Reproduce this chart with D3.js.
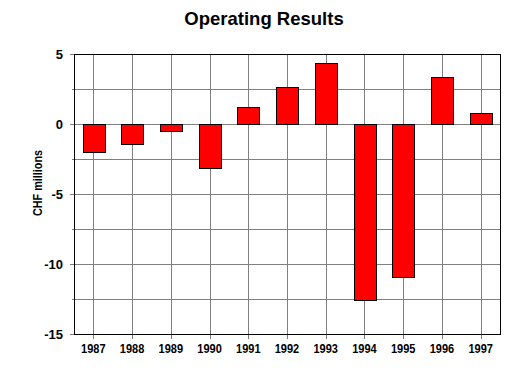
<!DOCTYPE html>
<html>
<head>
<meta charset="utf-8">
<script src="https://cdn.jsdelivr.net/npm/d3@7"></script>
<style>
  html, body { margin: 0; padding: 0; background: #fff; }
  svg { display: block; }
</style>
</head>
<body>
<svg id="chart" width="532" height="382"></svg>
<script>
const years = ["1987","1988","1989","1990","1991","1992","1993","1994","1995","1996","1997"];
const results = [-2.0, -1.43, -0.5, -3.14, 1.21, 2.62, 4.34, -12.57, -10.93, 3.34, 0.79];
const yLabelTicks = [5, 0, -5, -10, -15];
const yGridTicks = [5, 2.5, 0, -2.5, -5, -7.5, -10, -12.5, -15];
const title = "Operating Results";
const yTitle = "CHF millions";

const svg = d3.select("#chart");
const L = 74, R = 500, T = 54, B = 334;

const x = d3.scaleBand().domain(years).range([L, R]).paddingInner(0.44).paddingOuter(0.22);
const y = d3.scaleLinear().domain([-15, 5]).range([B, T]);

const font = "'Liberation Sans', Arial, sans-serif";

// horizontal gridlines + left ticks
svg.append("g").selectAll("line").data(yGridTicks).join("line")
  .attr("x1", d => (d % 5 === 0) ? L - 4 : L - 2).attr("x2", R)
  .attr("y1", d => Math.round(y(d)) + 0.5).attr("y2", d => Math.round(y(d)) + 0.5)
  .attr("stroke", "#808080").attr("stroke-width", 1);

// vertical gridlines
svg.append("g").selectAll("line").data(years).join("line")
  .attr("x1", d => Math.round(x(d) + x.bandwidth() / 2) + 0.5)
  .attr("x2", d => Math.round(x(d) + x.bandwidth() / 2) + 0.5)
  .attr("y1", T).attr("y2", B + 5)
  .attr("stroke", "#808080").attr("stroke-width", 1);

// bars
svg.append("g").selectAll("rect").data(years).join("rect")
  .attr("x", d => Math.round(x(d)) + 0.5)
  .attr("width", Math.round(x.bandwidth()))
  .attr("y", (d, i) => Math.round(y(Math.max(0, results[i]))) + 0.5)
  .attr("height", (d, i) => Math.round(Math.abs(y(results[i]) - y(0))))
  .attr("fill", "#ff0000").attr("stroke", "#000").attr("stroke-width", 1);

// frame
svg.append("rect").attr("x", L + 0.5).attr("y", T + 0.5)
  .attr("width", R - L).attr("height", B - T)
  .attr("fill", "none").attr("stroke", "#000").attr("stroke-width", 1);

// y tick labels
svg.append("g").selectAll("text").data(yLabelTicks).join("text")
  .attr("x", 63).attr("y", d => y(d) + 5)
  .attr("text-anchor", "end")
  .attr("font-family", font).attr("font-weight", "bold").attr("font-size", 13)
  .text(d => d);

// x tick labels
svg.append("g").selectAll("text").data(years).join("text")
  .attr("x", d => x(d) + x.bandwidth() / 2)
  .attr("y", 352.5)
  .attr("text-anchor", "middle")
  .attr("font-family", font).attr("font-weight", "bold").attr("font-size", 13)
  .attr("textLength", 24.5).attr("lengthAdjust", "spacingAndGlyphs")
  .text(d => d);

// title
svg.append("text").attr("x", 264).attr("y", 25).attr("text-anchor", "middle")
  .attr("font-family", font).attr("font-weight", "bold")
  .attr("font-size", 18.5).text(title);

// y axis title
svg.append("text").attr("transform", "translate(41.5,183) rotate(-90)")
  .attr("text-anchor", "middle")
  .attr("font-family", font).attr("font-weight", "bold")
  .attr("font-size", 12).attr("textLength", 66).attr("lengthAdjust", "spacingAndGlyphs")
  .text(yTitle);
</script>
</body>
</html>
